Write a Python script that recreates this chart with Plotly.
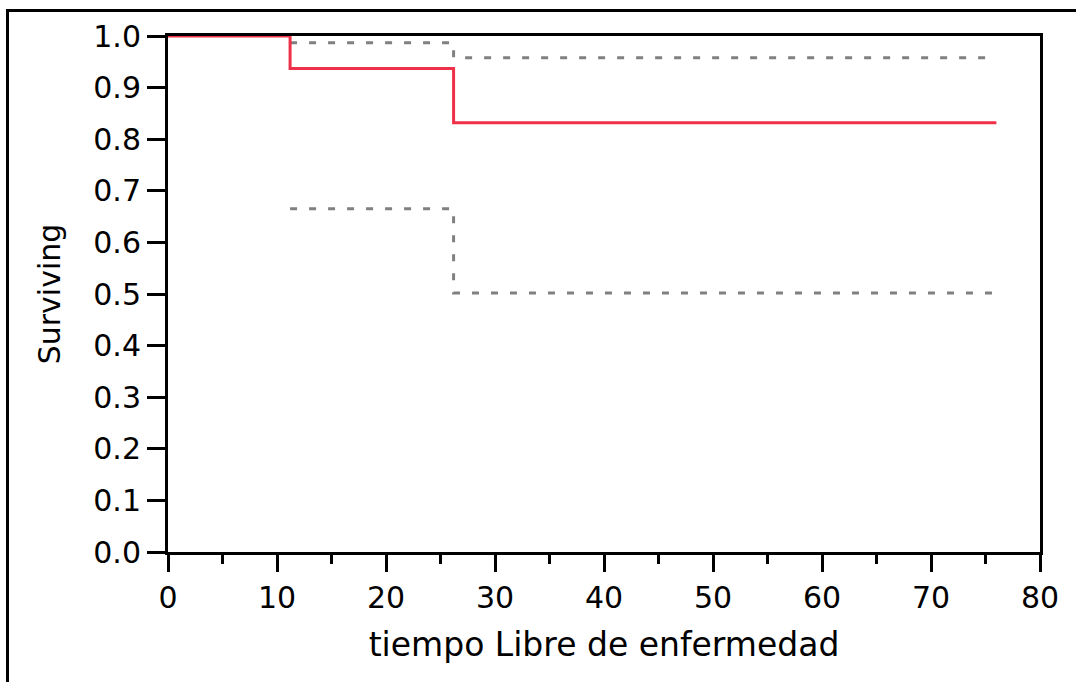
import plotly.graph_objects as go

# Kaplan-Meier estimate and confidence bounds
surv_time = [0, 11.2, 26.2, 76]
surv_val = [1.0, 0.937, 0.832, 0.832]
upper_time = [11.2, 26.2, 76]
upper_val = [0.987, 0.958, 0.958]
lower_time = [11.2, 26.2, 76]
lower_val = [0.665, 0.502, 0.502]

FONT = "DejaVu Sans"
W, H = 1076, 682
L, R, T, B = 168, 36, 36, 130

fig = go.Figure()
fig.add_trace(go.Scatter(x=upper_time, y=upper_val, mode="lines", line_shape="hv",
                         line=dict(color="#808080", width=3, dash="7px,12px"), showlegend=False))
fig.add_trace(go.Scatter(x=lower_time, y=lower_val, mode="lines", line_shape="hv",
                         line=dict(color="#808080", width=3, dash="7px,12px"), showlegend=False))
fig.add_trace(go.Scatter(x=surv_time, y=surv_val, mode="lines", line_shape="hv",
                         line=dict(color="#EE3048", width=3), showlegend=False))

pw = W - L - R
ph = H - T - B
fig.add_shape(type="rect", xref="paper", yref="paper",
              x0=(7.5 - L) / pw, x1=1.3, y0=-0.6, y1=(H - B - 10.5) / ph,
              line=dict(color="black", width=3), fillcolor="rgba(0,0,0,0)", layer="below")

fig.update_layout(
    width=W, height=H,
    margin=dict(l=L, r=R, t=T, b=B, autoexpand=False),
    paper_bgcolor="white", plot_bgcolor="white",
    font=dict(family=FONT, color="black", size=30),
)
fig.update_xaxes(range=[0, 80], dtick=10, tick0=0, showgrid=False, zeroline=False,
                 showline=True, linecolor="black", linewidth=3, mirror=True,
                 ticks="outside", ticklen=17, tickwidth=3, tickcolor="black",
                 minor=dict(dtick=5, ticks="outside", ticklen=9, tickwidth=3, tickcolor="black", showgrid=False),
                 tickfont=dict(size=30, family=FONT),
                 title=dict(text="tiempo Libre de enfermedad", font=dict(size=33, family=FONT), standoff=19))
fig.update_yaxes(range=[0, 1], dtick=0.1, tick0=0, tickformat=".1f", showgrid=False, zeroline=False,
                 showline=True, linecolor="black", linewidth=3, mirror=True,
                 ticks="outside", ticklen=18, tickwidth=3, tickcolor="black",
                 tickfont=dict(size=30, family=FONT),
                 title=dict(text="Surviving", font=dict(size=30, family=FONT), standoff=24))

fig.write_html("out.html")
